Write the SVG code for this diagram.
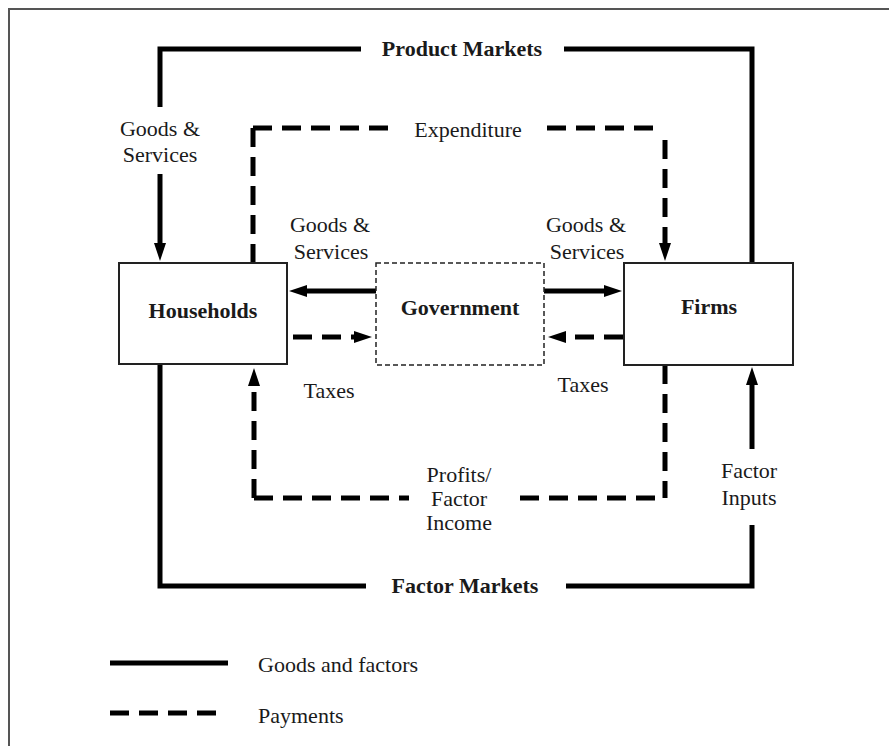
<svg xmlns="http://www.w3.org/2000/svg" width="889" height="746" viewBox="0 0 889 746">
<style>
text{font-family:"Liberation Serif","Times New Roman",serif;font-size:22px;fill:#1a1a1a;text-anchor:middle}
.b{font-weight:bold}
.l{text-anchor:start}
.box{fill:#fff;stroke:#222;stroke-width:2}
.gov{fill:#fff;stroke:#222;stroke-width:1.5;stroke-dasharray:5 3}
.s{fill:none;stroke:#000;stroke-width:5;stroke-linejoin:miter}
.d{fill:none;stroke:#000;stroke-width:5;stroke-dasharray:19 10}
</style>
<defs>
<marker id="ah" markerUnits="userSpaceOnUse" markerWidth="20" markerHeight="14" refX="1" refY="7" orient="auto">
<path d="M0,1 L18,7 L0,13 z" fill="#000"/>
</marker>
</defs>
<rect x="9" y="9" width="900" height="800" fill="none" stroke="#555" stroke-width="2"/>
<g id="connectors">
<path class="s" d="M160,107 V49 H361"/>
<path class="s" d="M564,49 H752 V263"/>
<path class="s" d="M160,174 V244" marker-end="url(#ah)"/>
<path class="s" d="M376,291 H306" marker-end="url(#ah)"/>
<path class="s" d="M544,291 H605" marker-end="url(#ah)"/>
<path class="s" d="M160,365 V586 H366"/>
<path class="s" d="M566,586 H752 V525"/>
<path class="s" d="M752,449 V384" marker-end="url(#ah)"/>
<path class="d" d="M253,128 H390"/>
<path class="d" d="M253,128 V263"/>
<path class="d" d="M547,128 H655"/>
<path class="d" d="M665,140 V244" stroke-dasharray="18 10" marker-end="url(#ah)"/>
<path class="d" d="M293,337 H355" marker-end="url(#ah)"/>
<path class="d" d="M623,337 H565" stroke-dasharray="17 11" marker-end="url(#ah)"/>
<path class="d" d="M665,365 V498" stroke-dasharray="18 10"/>
<path class="d" d="M655,498 H520" stroke-dasharray="18 10"/>
<path class="d" d="M254,498 H409" stroke-dasharray="18 9"/>
<path class="d" d="M254,498 V385" stroke-dasharray="18 10" marker-end="url(#ah)"/>
</g>
<g id="households">
<rect class="box" x="119" y="263" width="168" height="101"/>
<text class="b" x="203" y="318">Households</text>
</g>
<g id="government">
<rect class="gov" x="376" y="263" width="168" height="102"/>
<text class="b" x="460" y="315">Government</text>
</g>
<g id="firms">
<rect class="box" x="624" y="263" width="169" height="102"/>
<text class="b" x="709" y="314">Firms</text>
</g>
<g id="labels">
<text class="b" x="462" y="56">Product Markets</text>
<text x="160" y="136">Goods &amp;</text>
<text x="160" y="162">Services</text>
<text x="468" y="137">Expenditure</text>
<text x="330" y="232">Goods &amp;</text>
<text x="331" y="259">Services</text>
<text x="586" y="232">Goods &amp;</text>
<text x="587" y="259">Services</text>
<text x="329" y="398">Taxes</text>
<text x="583" y="392">Taxes</text>
<text x="459" y="482">Profits/</text>
<text x="459" y="506">Factor</text>
<text x="459" y="530">Income</text>
<text x="749" y="478">Factor</text>
<text x="749" y="505">Inputs</text>
<text class="b" x="465" y="593">Factor Markets</text>
</g>
<g id="legend">
<path class="s" d="M110,663 H228"/>
<path class="d" d="M110,713 H217"/>
<text class="l" x="258" y="672">Goods and factors</text>
<text class="l" x="258" y="723">Payments</text>
</g>
</svg>
